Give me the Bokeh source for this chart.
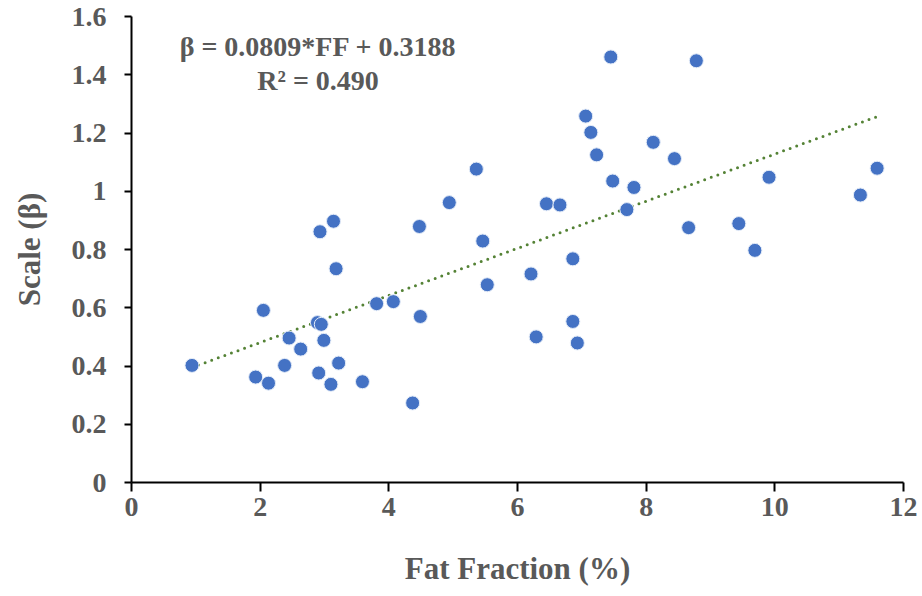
from bokeh.plotting import figure
from bokeh.models import Range1d, FixedTicker, Label
from bokeh.embed import file_html
from bokeh.resources import INLINE

# Data
fat_fraction = [0.94, 2.05, 1.93, 2.13, 2.38, 2.45, 2.63, 2.89, 2.95, 2.99,
                2.91, 3.10, 3.22, 3.18, 2.93, 3.59, 3.81, 4.07, 4.49, 4.37,
                5.46, 5.53, 4.475, 3.14, 4.94, 5.36, 7.45, 8.78, 7.06, 7.14,
                7.23, 8.11, 8.44, 7.48, 7.81, 7.70, 6.45, 6.66, 9.91, 11.59,
                11.33, 8.66, 9.44, 9.69, 6.21, 6.86, 6.29, 6.86, 6.93]
scale_beta = [0.402, 0.591, 0.362, 0.341, 0.402, 0.496, 0.458, 0.549, 0.543, 0.488,
              0.376, 0.337, 0.410, 0.734, 0.861, 0.346, 0.614, 0.621, 0.570, 0.273,
              0.829, 0.679, 0.879, 0.897, 0.961, 1.076, 1.461, 1.448, 1.258, 1.202,
              1.125, 1.168, 1.112, 1.035, 1.013, 0.937, 0.957, 0.953, 1.048, 1.079,
              0.987, 0.875, 0.889, 0.797, 0.716, 0.768, 0.500, 0.553, 0.479]

slope = 0.0809
intercept = 0.3188
equation_text = "β = 0.0809*FF + 0.3188"
r2_text = "R² = 0.490"

x_ticks = [0, 2, 4, 6, 8, 10, 12]
x_tick_labels = ["0", "2", "4", "6", "8", "10", "12"]
y_ticks = [0, 0.2, 0.4, 0.6, 0.8, 1, 1.2, 1.4, 1.6]
y_tick_labels = ["0", "0.2", "0.4", "0.6", "0.8", "1", "1.2", "1.4", "1.6"]

FONT = "Liberation Serif"
GREY = "#595959"

p = figure(width=922, height=596, output_backend="svg", toolbar_location=None,
           x_range=Range1d(0, 12), y_range=Range1d(0, 1.6),
           min_border_left=131, min_border_right=19, min_border_top=16, min_border_bottom=114)
p.outline_line_color = None
p.xgrid.grid_line_color = None
p.ygrid.grid_line_color = None
p.background_fill_color = "white"
p.border_fill_color = "white"

# Trend line
x0 = min(fat_fraction)
x1 = max(fat_fraction)
p.line([x0, x1], [slope * x0 + intercept, slope * x1 + intercept],
       line_color="#548235", line_width=3, line_dash="0 7", line_cap="round")

p.scatter(fat_fraction, scale_beta, size=14, fill_color="#4472C4",
          line_color="#E4ECF8", line_width=1)

for ax in (p.xaxis[0], p.yaxis[0]):
    ax.axis_line_color = "black"
    ax.axis_line_width = 2
    ax.major_tick_line_color = "black"
    ax.major_tick_line_width = 2
    ax.minor_tick_line_color = None
    ax.major_tick_in = 0
    ax.major_label_text_font = FONT
    ax.major_label_text_font_style = "bold"
    ax.major_label_text_color = GREY
    ax.major_label_text_font_size = "28px"
    ax.axis_label_text_font = FONT
    ax.axis_label_text_font_style = "bold"
    ax.axis_label_text_color = GREY
    ax.axis_label_text_font_size = "31px"

p.xaxis.ticker = FixedTicker(ticks=x_ticks)
p.xaxis.major_label_overrides = dict(zip(x_ticks, x_tick_labels))
p.yaxis.ticker = FixedTicker(ticks=y_ticks)
p.yaxis.major_label_overrides = dict(zip(y_ticks, y_tick_labels))
p.xaxis.major_tick_out = 9
p.yaxis.major_tick_out = 7
p.xaxis.major_label_standoff = 6
p.yaxis.major_label_standoff = 18
p.xaxis.axis_label = "Fat Fraction (%)"
p.yaxis.axis_label = "Scale (β)"
p.xaxis.axis_label_standoff = 32
p.yaxis.axis_label_standoff = 22

p.add_layout(Label(x=2.9, y=1.496, text=equation_text, text_align="center",
                   text_baseline="middle", text_font=FONT, text_font_style="bold",
                   text_color=GREY, text_font_size="28px"))
p.add_layout(Label(x=2.9, y=1.379, text=r2_text, text_align="center",
                   text_baseline="middle", text_font=FONT, text_font_style="bold",
                   text_color=GREY, text_font_size="28px"))

open("out.html", "w").write(file_html(p, INLINE))
